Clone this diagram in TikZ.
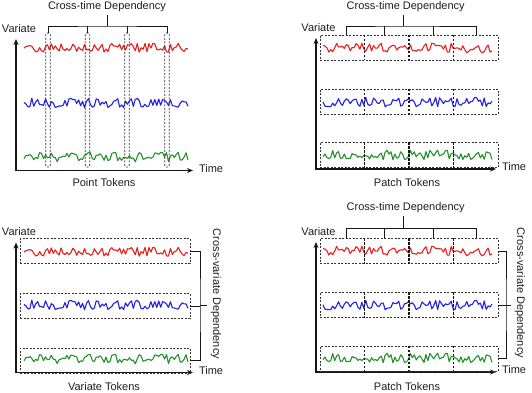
\documentclass[tikz,border=0pt]{standalone}
\usepackage{fontspec}
\setmainfont{Liberation Sans}
\usetikzlibrary{positioning, arrows.meta, calc}
\definecolor{clrred}{HTML}{E82020}
\definecolor{clrblue}{HTML}{2222E6}
\definecolor{clrgreen}{HTML}{23922A}
\definecolor{clrborder}{HTML}{161616}
\definecolor{clrframe}{HTML}{333333}
\definecolor{clrtext}{HTML}{1E1E1E}

\begin{document}
\begin{tikzpicture}[
    x=1pt, y=-1pt,
    every node/.style={font=\fontsize{11}{13}\selectfont, text=clrtext},
    axisline/.style={{Stealth[length=6pt,width=5pt]}-{Stealth[length=6pt,width=5pt]}, line width=1.4pt, color=clrborder},
    ptbox/.style={draw=clrframe, dash pattern=on 2pt off 1.5pt, line width=0.75pt, rounded corners=1.5pt,
                  minimum width=4.5pt, minimum height=134pt, inner sep=0},
    rowbox/.style={draw=clrframe, dash pattern=on 2pt off 1.5pt, line width=0.75pt, minimum height=25pt, inner sep=0},
    divider/.style={draw=clrborder, dash pattern=on 2.5pt off 1.5pt, line width=1.3pt},
    brk/.style={draw=clrborder, line width=0.8pt},
    signal/.style={line width=1.1pt, line join=round},
]
\path[use as bounding box] (0,0) rectangle (532,392);
\coordinate (p1_o) at (16,170.5);
\coordinate (p1_v) at (16,39);
\coordinate (p1_t) at (193,170.5);
\coordinate (p2_o) at (316,169);
\coordinate (p2_v) at (316,38);
\coordinate (p2_t) at (496,169);
\coordinate (p3_o) at (16,372.5);
\coordinate (p3_v) at (16,242.5);
\coordinate (p3_t) at (193,372.5);
\coordinate (p4_o) at (316,372);
\coordinate (p4_v) at (316,242);
\coordinate (p4_t) at (496,372);
\pgfmathsetseed{11}
\draw[signal, clrred] plot[domain=24:188, samples=85] (\x, {48+4.8*rand});
\draw[signal, clrblue] plot[domain=24:188, samples=85] (\x, {103+4.8*rand});
\draw[signal, clrgreen] plot[domain=24:188, samples=85] (\x, {157+4.8*rand});
\pgfmathsetseed{23}
\draw[signal, clrred] plot[domain=323:492, samples=88] (\x, {48+4.8*rand});
\draw[signal, clrblue] plot[domain=323:492, samples=88] (\x, {102+4.8*rand});
\draw[signal, clrgreen] plot[domain=323:492, samples=88] (\x, {155+4.8*rand});
\pgfmathsetseed{11}
\draw[signal, clrred] plot[domain=24:188, samples=85] (\x, {252+4.8*rand});
\draw[signal, clrblue] plot[domain=24:188, samples=85] (\x, {305+4.8*rand});
\draw[signal, clrgreen] plot[domain=24:188, samples=85] (\x, {359+4.8*rand});
\pgfmathsetseed{23}
\draw[signal, clrred] plot[domain=323:492, samples=88] (\x, {251+4.8*rand});
\draw[signal, clrblue] plot[domain=323:492, samples=88] (\x, {305+4.8*rand});
\draw[signal, clrgreen] plot[domain=323:492, samples=88] (\x, {358+4.8*rand});
\draw[axisline] (p1_v) -- (p1_o) -- (p1_t);
\draw[axisline] (p2_v) -- (p2_o) -- (p2_t);
\draw[axisline] (p3_v) -- (p3_o) -- (p3_t);
\draw[axisline] (p4_v) -- (p4_o) -- (p4_t);
\node[above=3pt of p1_v, xshift=3pt] (p1_var) {Variate};
\node[above=3pt of p2_v, xshift=2.5pt] (p2_var) {Variate};
\node[above=3pt of p3_v, xshift=3pt] (p3_var) {Variate};
\node[above=3pt of p4_v, xshift=2.5pt] (p4_var) {Variate};
\node[right=2.5pt of p1_t, yshift=2pt] (p1_time) {Time};
\node[right=2.5pt of p2_t, yshift=2pt] (p2_time) {Time};
\node[right=2.5pt of p3_t, yshift=2pt] (p3_time) {Time};
\node[right=2.5pt of p4_t, yshift=2pt] (p4_time) {Time};
\node (p1_tok) at (104,182.4) {Point Tokens};
\node (p2_tok) at (407,182.4) {Patch Tokens};
\node (p3_tok) at (104,386.3) {Variate Tokens};
\node (p4_tok) at (407,386.3) {Patch Tokens};
\node[ptbox] (p1_b1) at (48,100) {};
\node[ptbox] (p1_b2) at (87.5,100) {};
\node[ptbox] (p1_b3) at (127,100) {};
\node[ptbox] (p1_b4) at (167,100) {};
\coordinate (p1_br) at (107,26);
\draw[brk] (p1_b1.north) |- (p1_br) -| (p1_b4.north);
\draw[brk] (p1_b2.north) -- (p1_b2.north |- p1_br);
\draw[brk] (p1_b3.north) -- (p1_b3.north |- p1_br);
\node[above=11pt of p1_br] (p1_dep) {Cross-time Dependency};
\draw[brk] (p1_br) -- (p1_dep.south);
\node[rowbox, minimum width=178pt] (p2_r1) at (409,47.5) {};
\node[rowbox, minimum width=178pt] (p2_r2) at (409,101.7) {};
\node[rowbox, minimum width=178pt] (p2_r3) at (409,155.3) {};
\foreach \r in {1,2,3}
  \foreach \f in {0.25,0.5,0.75}
    \draw[divider] ($(p2_r\r.north west)!\f!(p2_r\r.north east)$) -- ($(p2_r\r.south west)!\f!(p2_r\r.south east)$);
\coordinate (p2_br) at (403,26);
\draw[brk] (346,0 |- p2_r1.north) |- (p2_br) -| (476,0 |- p2_r1.north);
\draw[brk] (384,0 |- p2_r1.north) -- (384,0 |- p2_br);
\draw[brk] (433,0 |- p2_r1.north) -- (433,0 |- p2_br);
\node[above=11pt of p2_br, xshift=2.7pt] (p2_dep) {Cross-time Dependency};
\draw[brk] (p2_br) -- (p2_br |- p2_dep.south);
\node[rowbox, minimum width=170pt] (p3_r1) at (105,251) {};
\node[rowbox, minimum width=170pt] (p3_r2) at (105,306) {};
\node[rowbox, minimum width=170pt] (p3_r3) at (105,360.5) {};
\coordinate (p3_br) at (200,305);
\draw[brk] (p3_r1.east) -| (p3_br) |- (p3_r3.east);
\draw[brk] (p3_r2.east) -- (p3_r2.east -| p3_br);
\node[rotate=-90] (p3_dep) at (216,294) {Cross-variate Dependency};
\draw[brk] (p3_br) -- (p3_br -| p3_dep.south);
\node[rowbox, minimum width=178pt] (p4_r1) at (409,251) {};
\node[rowbox, minimum width=178pt] (p4_r2) at (409,305) {};
\node[rowbox, minimum width=178pt] (p4_r3) at (409,358.5) {};
\foreach \r in {1,2,3}
  \foreach \f in {0.25,0.5,0.75}
    \draw[divider] ($(p4_r\r.north west)!\f!(p4_r\r.north east)$) -- ($(p4_r\r.south west)!\f!(p4_r\r.south east)$);
\coordinate (p4_br) at (403,228.3);
\draw[brk] (346,0 |- p4_r1.north) |- (p4_br) -| (476,0 |- p4_r1.north);
\draw[brk] (384,0 |- p4_r1.north) -- (384,0 |- p4_br);
\draw[brk] (433,0 |- p4_r1.north) -- (433,0 |- p4_br);
\node[above=12pt of p4_br, xshift=2.7pt] (p4_dep) {Cross-time Dependency};
\draw[brk] (p4_br) -- (p4_br |- p4_dep.south);
\coordinate (p4_rb) at (506,305);
\draw[brk] (p4_r1.east) -| (p4_rb) |- (p4_r3.east);
\draw[brk] (p4_r2.east) -- (p4_r2.east -| p4_rb);
\node[rotate=-90] (p4_dep2) at (520,293) {Cross-variate Dependency};
\draw[brk] (p4_rb) -- (p4_rb -| p4_dep2.south);
\end{tikzpicture}
\end{document}
